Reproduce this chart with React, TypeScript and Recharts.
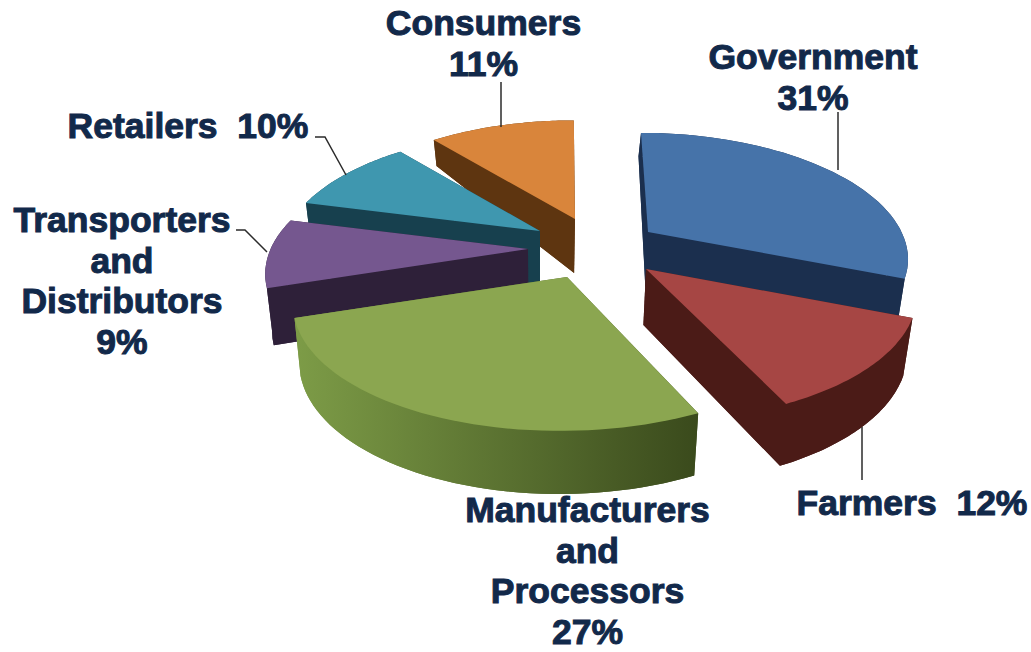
import { PieChart, Pie } from 'recharts'

const categories = ['Government', 'Farmers', 'Manufacturers and Processors', 'Transporters and Distributors', 'Retailers', 'Consumers']
const shares = [31, 12, 27, 9, 10, 11]
const labelNames = [['Government'], ['Farmers'], ['Manufacturers', 'and', 'Processors'], ['Transporters', 'and', 'Distributors'], ['Retailers'], ['Consumers']]

const chartData = categories.map((name, i) => ({ name, value: shares[i] }))

const topColors = ['#4673a9', '#a64644', '#8ba650', '#75578f', '#3f97af', '#d9853b']
const wallColors = [
  ['#1b2f4e', '#1b2f4e'],
  ['#4b1b17', '#4b1b17'],
  ['#7d9c47', '#3a4a1c'],
  ['#2e2039', '#2e2039'],
  ['#17404e', '#17404e'],
  ['#5e3510', '#5e3510'],
]

// how far each slice is pulled out of the pie, its size and sideways lean
const explode = [
  { dx: 88, dy: -18, scale: 0.975, lean: 0 },
  { dx: 86, dy: 19, scale: 1.02, lean: -25 },
  { dx: 7, dy: 27, scale: 1.03, lean: -35 },
  { dx: -32, dy: -1, scale: 0.99, lean: 0 },
  { dx: -20, dy: -19, scale: 0.975, lean: 0 },
  { dx: 15, dy: -31, scale: 0.97, lean: 0 },
]

// back to front
const drawOrder = [5, 4, 3, 0, 1, 2]

const labelLayout = [
  { x: 813, y: 69, inline: false, leader: 'M838 112V170' },
  { x: 912, y: 515, inline: true, leader: 'M862 427V480' },
  { x: 587.5, y: 522, inline: false, leader: '' },
  { x: 122, y: 232, inline: false, leader: 'M236 230H245L267 252' },
  { x: 188, y: 138, inline: true, leader: 'M315 137H325L346 175' },
  { x: 483.5, y: 35, inline: false, leader: 'M501 82V127' },
]

const CENTER_X = 560
const CENTER_Y = 250
const RADIUS = 260
const FLATTEN = 121 / 260
const PERSPECTIVE = 0.19
const BOTTOM_SHRINK = 0.025
const TEXT_COLOR = '#12294a'

const depthAt = (y: number) => (y < 219 ? 27 + (y - 143) * 0.355 : 54 + (y - 219) * 0.043)

function Slice3D(props: any) {
  const { index, cx, cy, startAngle, endAngle, outerRadius } = props
  const off = explode[index]
  const ax = cx + off.dx
  const ay = cy + off.dy

  const project = (deg: number) => {
    const t = (deg * Math.PI) / 180
    const z = Math.sin(t)
    const s = 1 / (1 + PERSPECTIVE * z)
    return [
      ax + outerRadius * off.scale * Math.cos(t) * s + ((ax - CENTER_X) * 0.5 + off.lean) * (s - 1),
      ay - outerRadius * off.scale * FLATTEN * z * s,
    ]
  }
  const drop = ([x, y]: number[]) => [x - (x - 540) * BOTTOM_SHRINK, y + depthAt(y)]

  const steps = 48
  const arc: number[][] = []
  for (let i = 0; i <= steps; i++) arc.push(project(startAngle + ((endAngle - startAngle) * i) / steps))
  const apex = [ax, ay]
  const arcLow = arc.map(drop)
  const apexLow = drop(apex)

  const poly = (pts: number[][]) => 'M' + pts.map(p => `${p[0].toFixed(1)} ${p[1].toFixed(1)}`).join('L') + 'Z'
  const xs = arc.map(p => p[0])
  const gradId = `wall-${index}`
  const wallFill = `url(#${gradId})`

  const walls = [
    poly([apexLow, ...arcLow]),
    poly([...arc, ...[...arcLow].reverse()]),
    poly([apex, arc[0], arcLow[0], apexLow]),
    poly([apex, arc[steps], arcLow[steps], apexLow]),
  ]

  return (
    <g>
      <defs>
        <linearGradient id={gradId} gradientUnits="userSpaceOnUse" x1={Math.min(...xs)} x2={Math.max(...xs)} y1={0} y2={0}>
          <stop offset="0" stopColor={wallColors[index][0]} />
          <stop offset="1" stopColor={wallColors[index][1]} />
        </linearGradient>
      </defs>
      {walls.map((d, i) => (
        <path key={i} d={d} fill={wallFill} />
      ))}
      <path d={poly([apex, ...arc])} fill={topColors[index]} />
    </g>
  )
}

function renderLabel(props: any) {
  const { index } = props
  const layout = labelLayout[index]
  const pct = `${shares[index]}%`
  const lines = layout.inline ? [`${labelNames[index][0]}  ${pct}`] : [...labelNames[index], pct]
  return (
    <g key={index}>
      {layout.leader && <path d={layout.leader} fill="none" stroke="#2b2b2b" strokeWidth={1.5} />}
      <text
        textAnchor="middle"
        fontFamily="'Liberation Sans', Arial, sans-serif"
        fontWeight={700}
        fontSize={35.5}
        fill={TEXT_COLOR}
        stroke={TEXT_COLOR}
        strokeWidth={1}
        style={{ whiteSpace: 'pre' }}
      >
        {lines.map((line, i) => (
          <tspan key={i} x={layout.x} y={layout.y + i * 40.7}>
            {line}
          </tspan>
        ))}
      </text>
    </g>
  )
}

export default function App() {
  return (
    <div style={{ position: 'absolute', left: 0, top: 0, width: 1031, height: 652, background: '#fff' }}>
      <PieChart width={1031} height={652} margin={{ top: 0, right: 0, bottom: 0, left: 0 }}>
        {drawOrder.map(k => (
          <Pie
            key={k}
            data={chartData}
            dataKey="value"
            nameKey="name"
            cx={CENTER_X}
            cy={CENTER_Y}
            outerRadius={RADIUS}
            startAngle={90}
            endAngle={-270}
            stroke="none"
            isAnimationActive={false}
            shape={(p: any) => (p.index === k ? <Slice3D {...p} /> : <g />)}
          />
        ))}
        <Pie
          data={chartData}
          dataKey="value"
          nameKey="name"
          cx={CENTER_X}
          cy={CENTER_Y}
          outerRadius={RADIUS}
          startAngle={90}
          endAngle={-270}
          isAnimationActive={false}
          shape={() => <g />}
          label={renderLabel}
          labelLine={false}
        />
      </PieChart>
    </div>
  )
}
